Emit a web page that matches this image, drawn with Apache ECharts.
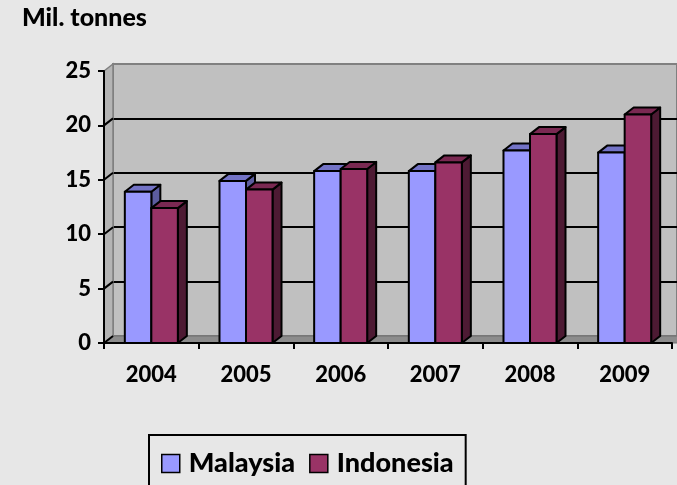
<!DOCTYPE html>
<html>
<head>
<meta charset="utf-8">
<script src="https://cdn.jsdelivr.net/npm/echarts@6/dist/echarts.min.js"></script>
<style>
  html, body { margin: 0; padding: 0; background: #e7e7e7; }
  #chart { width: 677px; height: 485px; }
</style>
</head>
<body>
<div id="chart"></div>
<script>
// data
const years = ['2004', '2005', '2006', '2007', '2008', '2009']
const malaysia = [13.9, 14.9, 15.8, 15.8, 17.7, 17.5]
const indonesia = [12.4, 14.1, 16.0, 16.6, 19.2, 21.0]
const yTicks = [0, 5, 10, 15, 20, 25]

// 3D depth offset
const DX = 9
const DY = -7
const FONT = 'Lato'
const WEIGHT = 900

const chart = echarts.init(document.getElementById('chart'))

// bar with front / top / side faces
const barRenderer = (slot, front, topC, sideC) => (params, api) => {
    const cat = api.value(0)
    const val = api.value(1)
    const base = api.coord([cat, 0])
    const top = api.coord([cat, val])
    const w = api.size([1, 0])[0] * 0.28
    const x0 = base[0] - w + slot * w
    const ty = top[1]
    const by = base[1]
    const stroke = { stroke: '#000', lineWidth: 2, lineJoin: 'round' }
    return {
        type: 'group',
        children: [
            {
                type: 'polygon',
                shape: { points: [[x0 + w, ty], [x0 + w + DX, ty + DY], [x0 + w + DX, by + DY], [x0 + w, by]] },
                style: Object.assign({ fill: sideC }, stroke)
            },
            {
                type: 'polygon',
                shape: { points: [[x0, ty], [x0 + DX, ty + DY], [x0 + w + DX, ty + DY], [x0 + w, ty]] },
                style: Object.assign({ fill: topC }, stroke)
            },
            {
                type: 'rect',
                shape: { x: x0, y: ty, width: w, height: by - ty },
                style: Object.assign({ fill: front }, stroke)
            }
        ]
    }
}

// left wall + floor
const frameRenderer = (params, api) => {
    const cs = params.coordSys
    const L = cs.x
    const R = cs.x + cs.width
    const yBot = api.coord([0, 0])[1]
    const yTop = api.coord([0, yTicks[yTicks.length - 1]])[1]
    const children = [
        {
            type: 'polygon',
            shape: { points: [[L, yTop], [L + DX, yTop + DY], [L + DX, yBot + DY], [L, yBot]] },
            style: { fill: '#b4b4b4', stroke: '#808080', lineWidth: 1.5 }
        },
        {
            type: 'polygon',
            shape: { points: [[L, yBot], [L + DX, yBot + DY], [R + DX + 10, yBot + DY], [R + 10, yBot]] },
            style: { fill: '#8c8c8c', stroke: '#6e6e6e', lineWidth: 1 }
        }
    ]
    yTicks.slice(0, -1).forEach(t => {
        const y = api.coord([0, t])[1]
        children.push({
            type: 'line',
            shape: { x1: L, y1: y, x2: L + DX, y2: y + DY },
            style: { stroke: '#000', lineWidth: 2 }
        })
    })
    return { type: 'group', children }
}

const option = {
    backgroundColor: '#e7e7e7',
    animation: false,
    title: {
        text: 'Mil. tonnes',
        left: 17,
        top: 0,
        textStyle: { fontFamily: FONT, fontWeight: WEIGHT, fontSize: 25, color: '#000' }
    },
    legend: {
        left: 149,
        top: 435,
        padding: [15, 12, 40, 12],
        itemWidth: 18,
        itemHeight: 18,
        itemGap: 14,
        icon: 'rect',
        borderColor: '#000',
        borderWidth: 2,
        itemStyle: { borderColor: '#000', borderWidth: 1.5 },
        textStyle: { fontFamily: FONT, fontWeight: WEIGHT, fontSize: 27, color: '#000', padding: [0, 0, 0, 4] },
        data: [
            { name: 'Malaysia', itemStyle: { color: '#9999ff' } },
            { name: 'Indonesia', itemStyle: { color: '#993366' } }
        ]
    },
    grid: [
        // front plane
        { left: 104, right: 5, top: 71, height: 272 },
        // back wall
        { left: 113, right: -10, top: 64, height: 272, show: true, backgroundColor: '#c0c0c0', borderColor: '#808080', borderWidth: 2 }
    ],
    xAxis: [
        {
            type: 'category',
            gridIndex: 0,
            data: years,
            z: 5,
            axisLine: { lineStyle: { color: '#000', width: 2 } },
            axisTick: { show: true, length: 6, lineStyle: { color: '#000', width: 2 } },
            axisLabel: { color: '#000', fontFamily: FONT, fontWeight: WEIGHT, fontSize: 22, margin: 21 }
        },
        { type: 'category', gridIndex: 1, data: years, show: false }
    ],
    yAxis: [
        {
            type: 'value',
            gridIndex: 0,
            min: 0,
            max: 25,
            interval: 5,
            z: 5,
            axisLine: { show: true, lineStyle: { color: '#000', width: 2 } },
            axisTick: { show: true, length: 6, lineStyle: { color: '#000', width: 2 } },
            axisLabel: { color: '#000', fontFamily: FONT, fontWeight: WEIGHT, fontSize: 22, margin: 13 },
            splitLine: { show: false }
        },
        {
            type: 'value',
            gridIndex: 1,
            min: 0,
            max: 25,
            interval: 5,
            axisLine: { show: false },
            axisTick: { show: false },
            axisLabel: { show: false },
            splitLine: { show: true, showMinLine: false, showMaxLine: false, lineStyle: { color: '#000', width: 2 } }
        }
    ],
    series: [
        {
            name: 'frame',
            type: 'custom',
            xAxisIndex: 0,
            yAxisIndex: 0,
            silent: true,
            z: 1,
            renderItem: frameRenderer,
            data: [[0, 0]]
        },
        {
            name: 'Malaysia',
            type: 'custom',
            xAxisIndex: 0,
            yAxisIndex: 0,
            z: 2,
            itemStyle: { color: '#9999ff' },
            renderItem: barRenderer(0, '#9999ff', '#7373c6', '#5c5c9e'),
            data: malaysia.map((v, i) => [i, v])
        },
        {
            name: 'Indonesia',
            type: 'custom',
            xAxisIndex: 0,
            yAxisIndex: 0,
            z: 3,
            itemStyle: { color: '#993366' },
            renderItem: barRenderer(1, '#993366', '#7a2952', '#4d1a33'),
            data: indonesia.map((v, i) => [i, v])
        }
    ]
}

chart.setOption(option)
</script>
</body>
</html>
